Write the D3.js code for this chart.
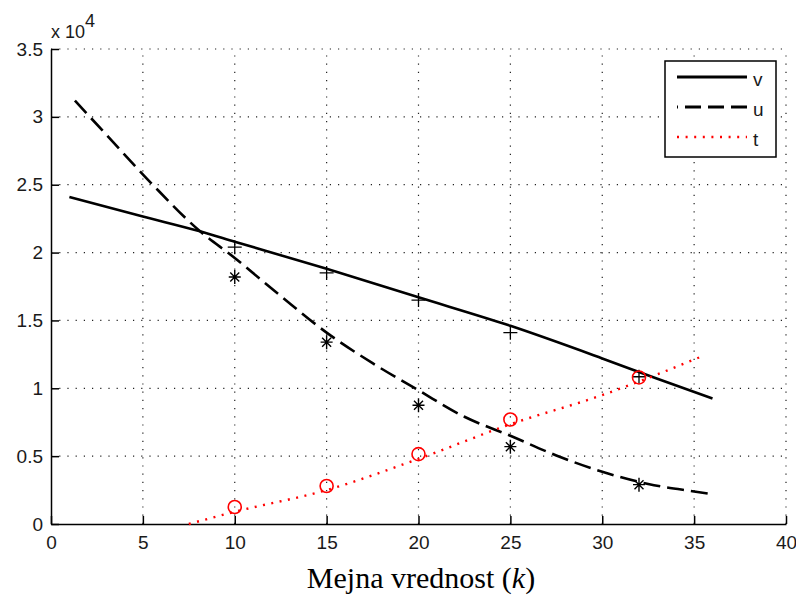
<!DOCTYPE html>
<html>
<head>
<meta charset="utf-8">
<script src="https://cdn.jsdelivr.net/npm/d3@7"></script>
<style>
  body { margin: 0; background: #fff; }
  svg { display: block; }
  .tick-label { font-family: "Liberation Sans", Arial, sans-serif; font-size: 19px; fill: #1a1a1a; }
</style>
</head>
<body>
<svg id="chart" width="796" height="596"></svg>
<script>
// data (values in units, axis shows x 10^4)
const vK = [1, 5, 8, 10, 15, 20, 25, 30, 33, 36];
const vVal = [24100, 22650, 21600, 20800, 18800, 16700, 14600, 12200, 10700, 9250];
const uK = [1.3, 3, 5.5, 8, 10, 12.5, 15, 17.5, 20, 22.5, 25, 27.5, 30, 32.5, 35, 36];
const uVal = [31200, 28700, 25050, 21700, 19600, 16800, 14100, 11850, 9850, 7900, 6500, 5050, 3850, 2950, 2400, 2200];
const tK = [7.5, 10, 15, 20, 25, 30, 35.6];
const tVal = [0, 900, 2500, 4800, 7350, 9500, 12450];

const markK = [10, 15, 20, 25, 32];
const vMark = [20400, 18500, 16500, 14100, 10850];
const uMark = [18200, 13400, 8750, 5700, 2900];
const tMark = [1250, 2800, 5150, 7700, 10800];

const xTicks = [0, 5, 10, 15, 20, 25, 30, 35, 40];
const yTicks = [0, 5000, 10000, 15000, 20000, 25000, 30000, 35000];
const legendNames = ["v", "u", "t"];

const svg = d3.select("#chart");
svg.append("rect").attr("width", 796).attr("height", 596).attr("fill", "#fff");

let x = d3.scaleLinear().domain([0, 40]).range([51, 786]);
let y = d3.scaleLinear().domain([0, 35000]).range([524, 49]);

// grid lines, dotted
let grid = svg.append("g");
grid.selectAll("line.gx")
  .data(xTicks.slice(1))
  .enter().append("line")
  .attr("x1", d => x(d)).attr("x2", d => x(d))
  .attr("y1", y(0)).attr("y2", y(35000))
  .attr("stroke", "#222").attr("stroke-width", 1.2)
  .attr("stroke-dasharray", "1.2,7");
grid.selectAll("line.gy")
  .data(yTicks.slice(1))
  .enter().append("line")
  .attr("y1", d => y(d)).attr("y2", d => y(d))
  .attr("x1", x(0)).attr("x2", x(40))
  .attr("stroke", "#222").attr("stroke-width", 1.2)
  .attr("stroke-dasharray", "1.2,7");

// axes: ticks inside, like matlab
let xAxis = d3.axisBottom(x).tickValues(xTicks).tickSize(-8).tickPadding(12).tickSizeOuter(0);
let yAxis = d3.axisLeft(y).tickValues(yTicks).tickSize(-8).tickPadding(8).tickSizeOuter(0)
  .tickFormat(d => d / 10000);

let xg = svg.append("g").attr("transform", "translate(0," + y(0) + ")").call(xAxis);
let yg = svg.append("g").attr("transform", "translate(" + x(0) + ",0)").call(yAxis);
[xg, yg].forEach(g => {
  g.select(".domain").attr("stroke", "#000").attr("stroke-width", 1.5);
  g.selectAll(".tick line").attr("stroke", "#000").attr("stroke-width", 1.5);
  g.selectAll(".tick text").attr("class", "tick-label").attr("font-size", null).attr("font-family", null);
});
xg.selectAll(".tick text").attr("dy", "0.71em");

// exponent label
let expo = svg.append("text").attr("class", "tick-label").attr("x", 51).attr("y", 38).style("font-size", "18px");
expo.append("tspan").text("x 10");
expo.append("tspan").attr("dy", -11).text("4");

// series lines
let line = d3.line().x(d => x(d[0])).y(d => y(d[1])).curve(d3.curveMonotoneX);
svg.append("path")
  .attr("d", line(vK.map((k, i) => [k, vVal[i]])))
  .attr("fill", "none").attr("stroke", "#000").attr("stroke-width", 2.6);
svg.append("path")
  .attr("d", line(uK.map((k, i) => [k, uVal[i]])))
  .attr("fill", "none").attr("stroke", "#000").attr("stroke-width", 2.6)
  .attr("stroke-dasharray", "17,7");
svg.append("path")
  .attr("d", line(tK.map((k, i) => [k, tVal[i]])))
  .attr("fill", "none").attr("stroke", "#ff0000").attr("stroke-width", 2.4)
  .attr("stroke-dasharray", "2,6.5");

// markers
let plus = svg.append("g");
markK.forEach((k, i) => {
  let cx = x(k), cy = y(vMark[i]);
  plus.append("path")
    .attr("d", `M${cx - 7},${cy}H${cx + 7}M${cx},${cy - 7}V${cy + 7}`)
    .attr("stroke", "#000").attr("stroke-width", 1.3);
});
let star = svg.append("g");
markK.forEach((k, i) => {
  let cx = x(k), cy = y(uMark[i]);
  star.append("path")
    .attr("d", `M${cx - 6},${cy}H${cx + 6}M${cx},${cy - 7}V${cy + 7}M${cx - 4.5},${cy - 4.5}L${cx + 4.5},${cy + 4.5}M${cx - 4.5},${cy + 4.5}L${cx + 4.5},${cy - 4.5}`)
    .attr("stroke", "#000").attr("stroke-width", 1.4);
});
svg.append("g").selectAll("circle")
  .data(markK)
  .enter().append("circle")
  .attr("cx", d => x(d))
  .attr("cy", (d, i) => y(tMark[i]))
  .attr("r", 6.5)
  .attr("fill", "none").attr("stroke", "#ff0000").attr("stroke-width", 1.6);

// legend
let legend = svg.append("g");
legend.append("rect")
  .attr("x", 665).attr("y", 61).attr("width", 111).attr("height", 96)
  .attr("fill", "#fff").attr("stroke", "#000").attr("stroke-width", 1.5);
let legStyles = [
  { stroke: "#000", dash: null, w: 2.8 },
  { stroke: "#000", dash: "16,7", w: 2.8 },
  { stroke: "#ff0000", dash: "2,6.6", w: 2.4 }
];
legendNames.forEach((name, i) => {
  let ly = 77 + i * 30;
  legend.append("line")
    .attr("x1", 677).attr("x2", 747).attr("y1", ly).attr("y2", ly)
    .attr("stroke", legStyles[i].stroke).attr("stroke-width", legStyles[i].w)
    .attr("stroke-dasharray", legStyles[i].dash)
    .attr("stroke-dashoffset", i == 1 ? -8 : 0);
  legend.append("text").attr("class", "tick-label")
    .attr("x", 753).attr("y", ly + 9).text(name);
});

// x title
let title = svg.append("text")
  .attr("x", 421).attr("y", 588)
  .attr("text-anchor", "middle")
  .style("font-family", "'Liberation Serif', 'Times New Roman', serif")
  .style("font-size", "30px").attr("fill", "#000");
title.append("tspan").text("Mejna vrednost (");
title.append("tspan").style("font-style", "italic").text("k");
title.append("tspan").text(")");
</script>
</body>
</html>
